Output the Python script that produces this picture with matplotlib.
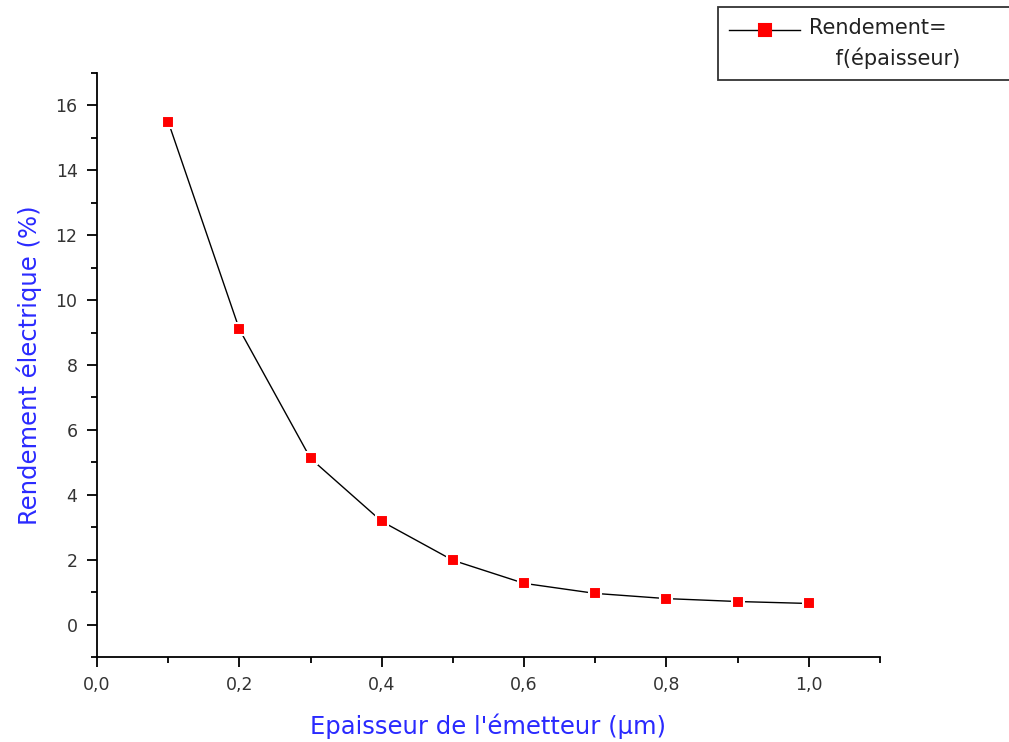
import numpy as np
import matplotlib.pyplot as plt
from matplotlib.ticker import MultipleLocator, FuncFormatter

epaisseur = [0.1, 0.2, 0.3, 0.4, 0.5, 0.6, 0.7, 0.8, 0.9, 1.0]
rendement = [15.5, 9.1, 5.12, 3.18, 1.98, 1.27, 0.96, 0.80, 0.71, 0.65]

plt.rcParams['font.family'] = ['DejaVu Sans']

fig = plt.figure(figsize=(10.09, 7.42), dpi=100)
ax = fig.add_axes([97 / 1009, 85 / 742, 783 / 1009, 584 / 742])

# la frontiere droite de la legende sort de la figure dans l'original
ax.plot(epaisseur, rendement, color='black', lw=1.0, marker='s', ms=9,
        mfc='red', mec='white', mew=1.5,
        label='Rendement=\n    f(épaisseur)       ')

ax.set_xlim(0, 1.1)
ax.set_ylim(-1, 17)
ax.spines['top'].set_visible(False)
ax.spines['right'].set_visible(False)
ax.spines['left'].set_linewidth(1.3)
ax.spines['bottom'].set_linewidth(1.3)

ax.xaxis.set_major_locator(MultipleLocator(0.2))
ax.xaxis.set_minor_locator(MultipleLocator(0.1))
ax.yaxis.set_major_locator(MultipleLocator(2))
ax.yaxis.set_minor_locator(MultipleLocator(1))
ax.xaxis.set_major_formatter(FuncFormatter(lambda v, p: f"{v:.1f}".replace('.', ',')))
ax.yaxis.set_major_formatter(FuncFormatter(lambda v, p: f"{v:.0f}"))
ax.tick_params(which='major', direction='out', length=7, width=1.3,
               labelsize=12.5, pad=7, labelcolor='#333333')
ax.tick_params(which='minor', direction='out', length=4, width=1.3)

ax.set_xlabel("Epaisseur de l'émetteur (µm)", color='#2a2aff', fontsize=17.5, labelpad=14)
ax.set_ylabel("Rendement électrique (%)", color='#2a2aff', fontsize=17.5, labelpad=10)

leg = fig.legend(loc='upper left', bbox_to_anchor=(718 / 1009, 1 - 7 / 742),
                 borderaxespad=0, fontsize=15, frameon=True, fancybox=False,
                 edgecolor='black', handlelength=3.4, borderpad=0.55,
                 handletextpad=0.4)
leg.get_frame().set_linewidth(1.3)
for t in leg.get_texts():
    t.set_linespacing(1.5)
    t.set_multialignment('left')
    t.set_color('#222222')
for h in leg.legend_handles:
    h.set_markeredgecolor('red')
    h.set_markersize(8)
    h.set_ydata(np.asarray(h.get_ydata()) + 10)

fig.savefig('out.png', dpi=100)
